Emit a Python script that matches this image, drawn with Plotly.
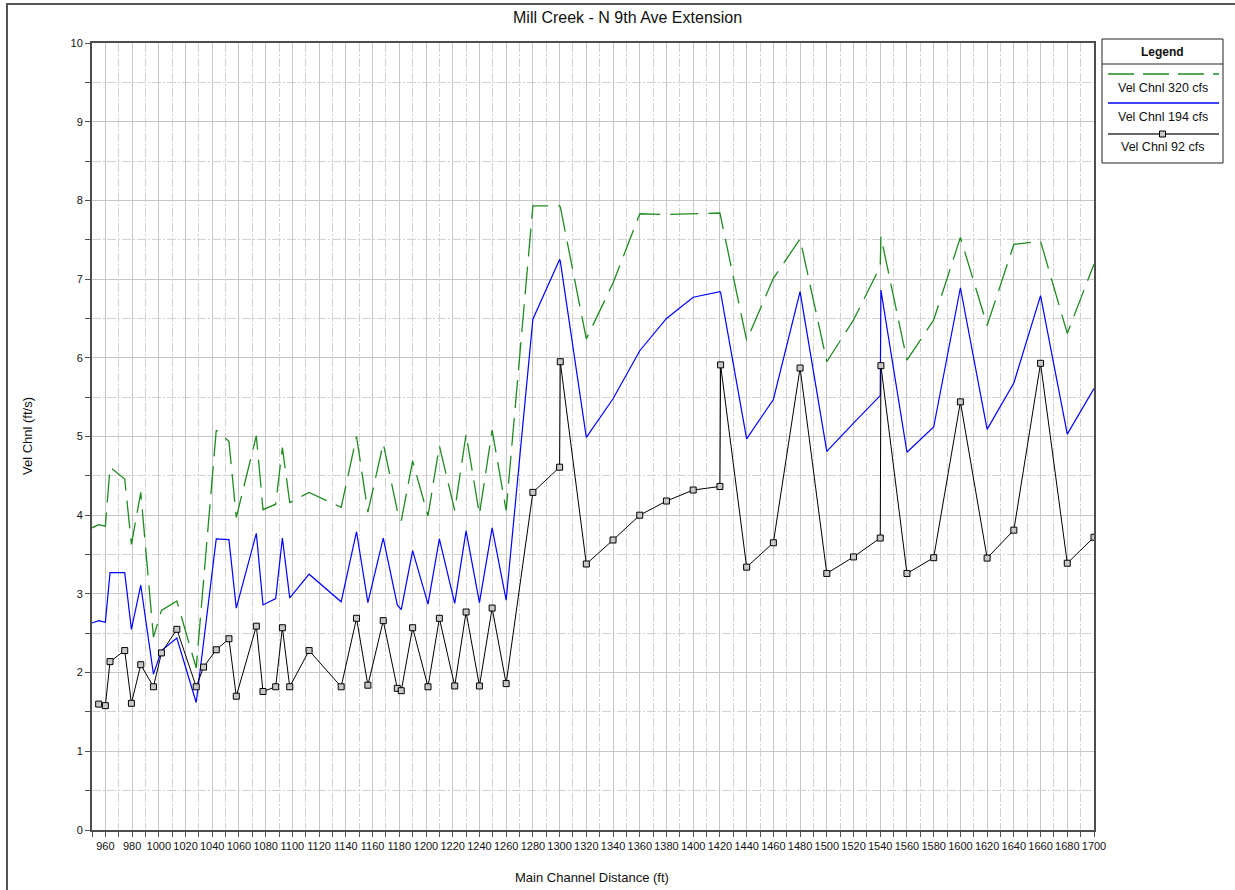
import plotly.graph_objects as go

# ---------------- data ----------------
stations = [950, 955, 960, 963.5, 974.5, 979.5, 986.5, 996, 1002, 1013.5,
            1028, 1033.5, 1043, 1052.5, 1058, 1073, 1078, 1087.5, 1092.5, 1098,
            1112.5, 1136.5, 1148, 1156.5, 1168, 1178.5, 1181.5, 1190, 1201.5, 1210,
            1221.5, 1230, 1240, 1249.5, 1260, 1280, 1300, 1300.5, 1320, 1340,
            1360, 1380, 1400, 1420, 1420.5, 1440, 1460, 1480, 1500, 1520,
            1540, 1540.5, 1560, 1580, 1600, 1620, 1640, 1660, 1680, 1700]

vel_320 = [3.84, 3.88, 3.86, 4.61, 4.46, 3.63, 4.29, 2.45, 2.79, 2.91,
           2.06, 3.17, 5.08, 4.94, 3.97, 5.01, 4.07, 4.14, 4.86, 4.16,
           4.29, 4.10, 5.00, 4.04, 4.91, 4.06, 3.93, 4.69, 3.99, 4.88,
           4.06, 5.03, 4.01, 5.08, 4.06, 7.93, 7.93, 7.92, 6.24, 6.95,
           7.83, 7.82, 7.83, 7.84, 7.80, 6.22, 7.01, 7.51, 5.95, 6.48,
           7.16, 7.54, 5.97, 6.48, 7.53, 6.41, 7.44, 7.48, 6.31, 7.19]

vel_194 = [2.63, 2.66, 2.64, 3.27, 3.27, 2.55, 3.11, 1.98, 2.28, 2.44,
           1.62, 2.38, 3.70, 3.69, 2.82, 3.77, 2.86, 2.94, 3.71, 2.95,
           3.25, 2.90, 3.79, 2.89, 3.71, 2.86, 2.80, 3.55, 2.87, 3.70,
           2.88, 3.80, 2.89, 3.84, 2.92, 6.49, 7.25, 7.23, 4.99, 5.48,
           6.09, 6.50, 6.77, 6.84, 6.83, 4.97, 5.47, 6.84, 4.81, 5.17,
           5.52, 6.86, 4.80, 5.12, 6.89, 5.09, 5.68, 6.79, 5.03, 5.61]

vel_92 = [None, 1.60, 1.58, 2.14, 2.28, 1.61, 2.10, 1.82, 2.25, 2.55,
          1.82, 2.07, 2.29, 2.43, 1.70, 2.59, 1.76, 1.82, 2.57, 1.82,
          2.28, 1.82, 2.69, 1.84, 2.66, 1.80, 1.77, 2.57, 1.82, 2.69,
          1.83, 2.77, 1.83, 2.82, 1.86, 4.29, 4.61, 5.95, 3.38, 3.685,
          4.00, 4.18, 4.32, 4.365, 5.91, 3.34, 3.65, 5.87, 3.26, 3.47,
          3.71, 5.90, 3.26, 3.46, 5.44, 3.455, 3.81, 5.93, 3.39, 3.72]

series_names = ["Vel Chnl 320 cfs", "Vel Chnl 194 cfs", "Vel Chnl 92 cfs"]
title_text = "Mill Creek - N 9th Ave Extension"
x_title = "Main Channel Distance (ft)"
y_title = "Vel Chnl (ft/s)"

# ---------------- layout helpers ----------------
W, H = 1235, 890
L, R, T, B = 92, 1094, 43, 830


def px(x):
    return (x - L) / (R - L)


def py(y):
    return (B - y) / (B - T)


FONT = "Arial, 'Liberation Sans', sans-serif"
GREEN = "#1f8a1f"
BLUE = "#0000ff"
AXC = "#4d4d4d"

fig = go.Figure()
fig.add_trace(go.Scatter(x=stations, y=vel_320, mode="lines", name=series_names[0],
                         line=dict(color=GREEN, width=1.3, dash="28px,10px"),
                         showlegend=False))
fig.add_trace(go.Scatter(x=stations, y=vel_194, mode="lines", name=series_names[1],
                         line=dict(color=BLUE, width=1.2), showlegend=False))
fig.add_trace(go.Scatter(x=stations, y=vel_92, mode="lines+markers", name=series_names[2],
                         line=dict(color="#000000", width=1),
                         marker=dict(symbol="square", size=6, color="#c8c8c8",
                                     line=dict(color="#000000", width=1)),
                         showlegend=False))

grid_major = "#c6c6c6"
grid_minor = "#d2d2d2"

fig.update_xaxes(range=[950, 1700], tick0=960, dtick=20, showgrid=True,
                 gridcolor=grid_major, gridwidth=1,
                 ticks="outside", ticklen=5, tickcolor=AXC, tickwidth=1,
                 showline=True, linecolor=AXC, linewidth=2, mirror=True,
                 tickfont=dict(family=FONT, size=11, color="#111"),
                 minor=dict(tick0=950, dtick=10, showgrid=True, gridcolor=grid_minor,
                            griddash="9px,2px,2px,2px", ticks="outside", ticklen=5,
                            tickcolor=AXC),
                 zeroline=False)
fig.update_yaxes(range=[0, 10], tick0=0, dtick=1, showgrid=True,
                 gridcolor=grid_major, gridwidth=1,
                 ticks="outside", ticklen=5, tickcolor=AXC, tickwidth=1,
                 showline=True, linecolor=AXC, linewidth=2, mirror=True,
                 tickfont=dict(family=FONT, size=11, color="#111"),
                 minor=dict(tick0=0, dtick=0.5, showgrid=True, gridcolor=grid_minor,
                            griddash="9px,2px,2px,2px", ticks="outside", ticklen=5,
                            tickcolor=AXC),
                 zeroline=False)

shapes = []
annotations = []


def label(text, x, y, size, angle=0):
    annotations.append(dict(text=text, xref="paper", yref="paper",
                            x=px(x), y=py(y), xanchor="center", yanchor="middle",
                            showarrow=False, textangle=angle,
                            font=dict(family=FONT, size=size, color="#111")))


# outer frame of the chart
shapes.append(dict(type="rect", xref="paper", yref="paper",
                   x0=px(7), x1=px(1260), y0=py(910), y1=py(4),
                   line=dict(color="#555555", width=2), fillcolor="rgba(0,0,0,0)",
                   layer="below"))

# title and axis titles
label(title_text, 627, 18, 16)
label(x_title, 592, 877, 13)
label(y_title, 27, 436, 13, -90)

# custom legend box
lx0, lx1, ly0, ly1 = 1102, 1223, 39, 163
lc = (lx0 + lx1) / 2
shapes.append(dict(type="rect", xref="paper", yref="paper",
                   x0=px(lx0), x1=px(lx1), y0=py(ly1), y1=py(ly0),
                   line=dict(color="#222", width=1), fillcolor="white"))
shapes.append(dict(type="line", xref="paper", yref="paper",
                   x0=px(lx0), x1=px(lx1), y0=py(64), y1=py(64),
                   line=dict(color="#222", width=1)))
label("<b>Legend</b>", lc, 52, 12)
entries = [(74, 88, GREEN, "dash"), (103, 117, BLUE, "solid"), (134, 147, "#333", "solid")]
for (ly, ty, col, dsh), name in zip(entries, series_names):
    shapes.append(dict(type="line", xref="paper", yref="paper",
                       x0=px(lx0 + 6), x1=px(lx1 - 4), y0=py(ly), y1=py(ly),
                       line=dict(color=col, width=1.3,
                                 dash="26px,9px" if dsh == "dash" else "solid")))
    label(name, lc, ty, 12.5)
shapes.append(dict(type="rect", xref="paper", yref="paper",
                   x0=px(lc - 3), x1=px(lc + 3), y0=py(137), y1=py(131),
                   line=dict(color="#000", width=1), fillcolor="#c8c8c8"))

fig.update_layout(width=W, height=H, margin=dict(l=L, r=W - R, t=T, b=H - B),
                  paper_bgcolor="white", plot_bgcolor="white",
                  shapes=shapes, annotations=annotations,
                  font=dict(family=FONT), showlegend=False)

fig.write_html("out.html", config={"displayModeBar": False},
               post_script="document.body.style.margin='0';")
